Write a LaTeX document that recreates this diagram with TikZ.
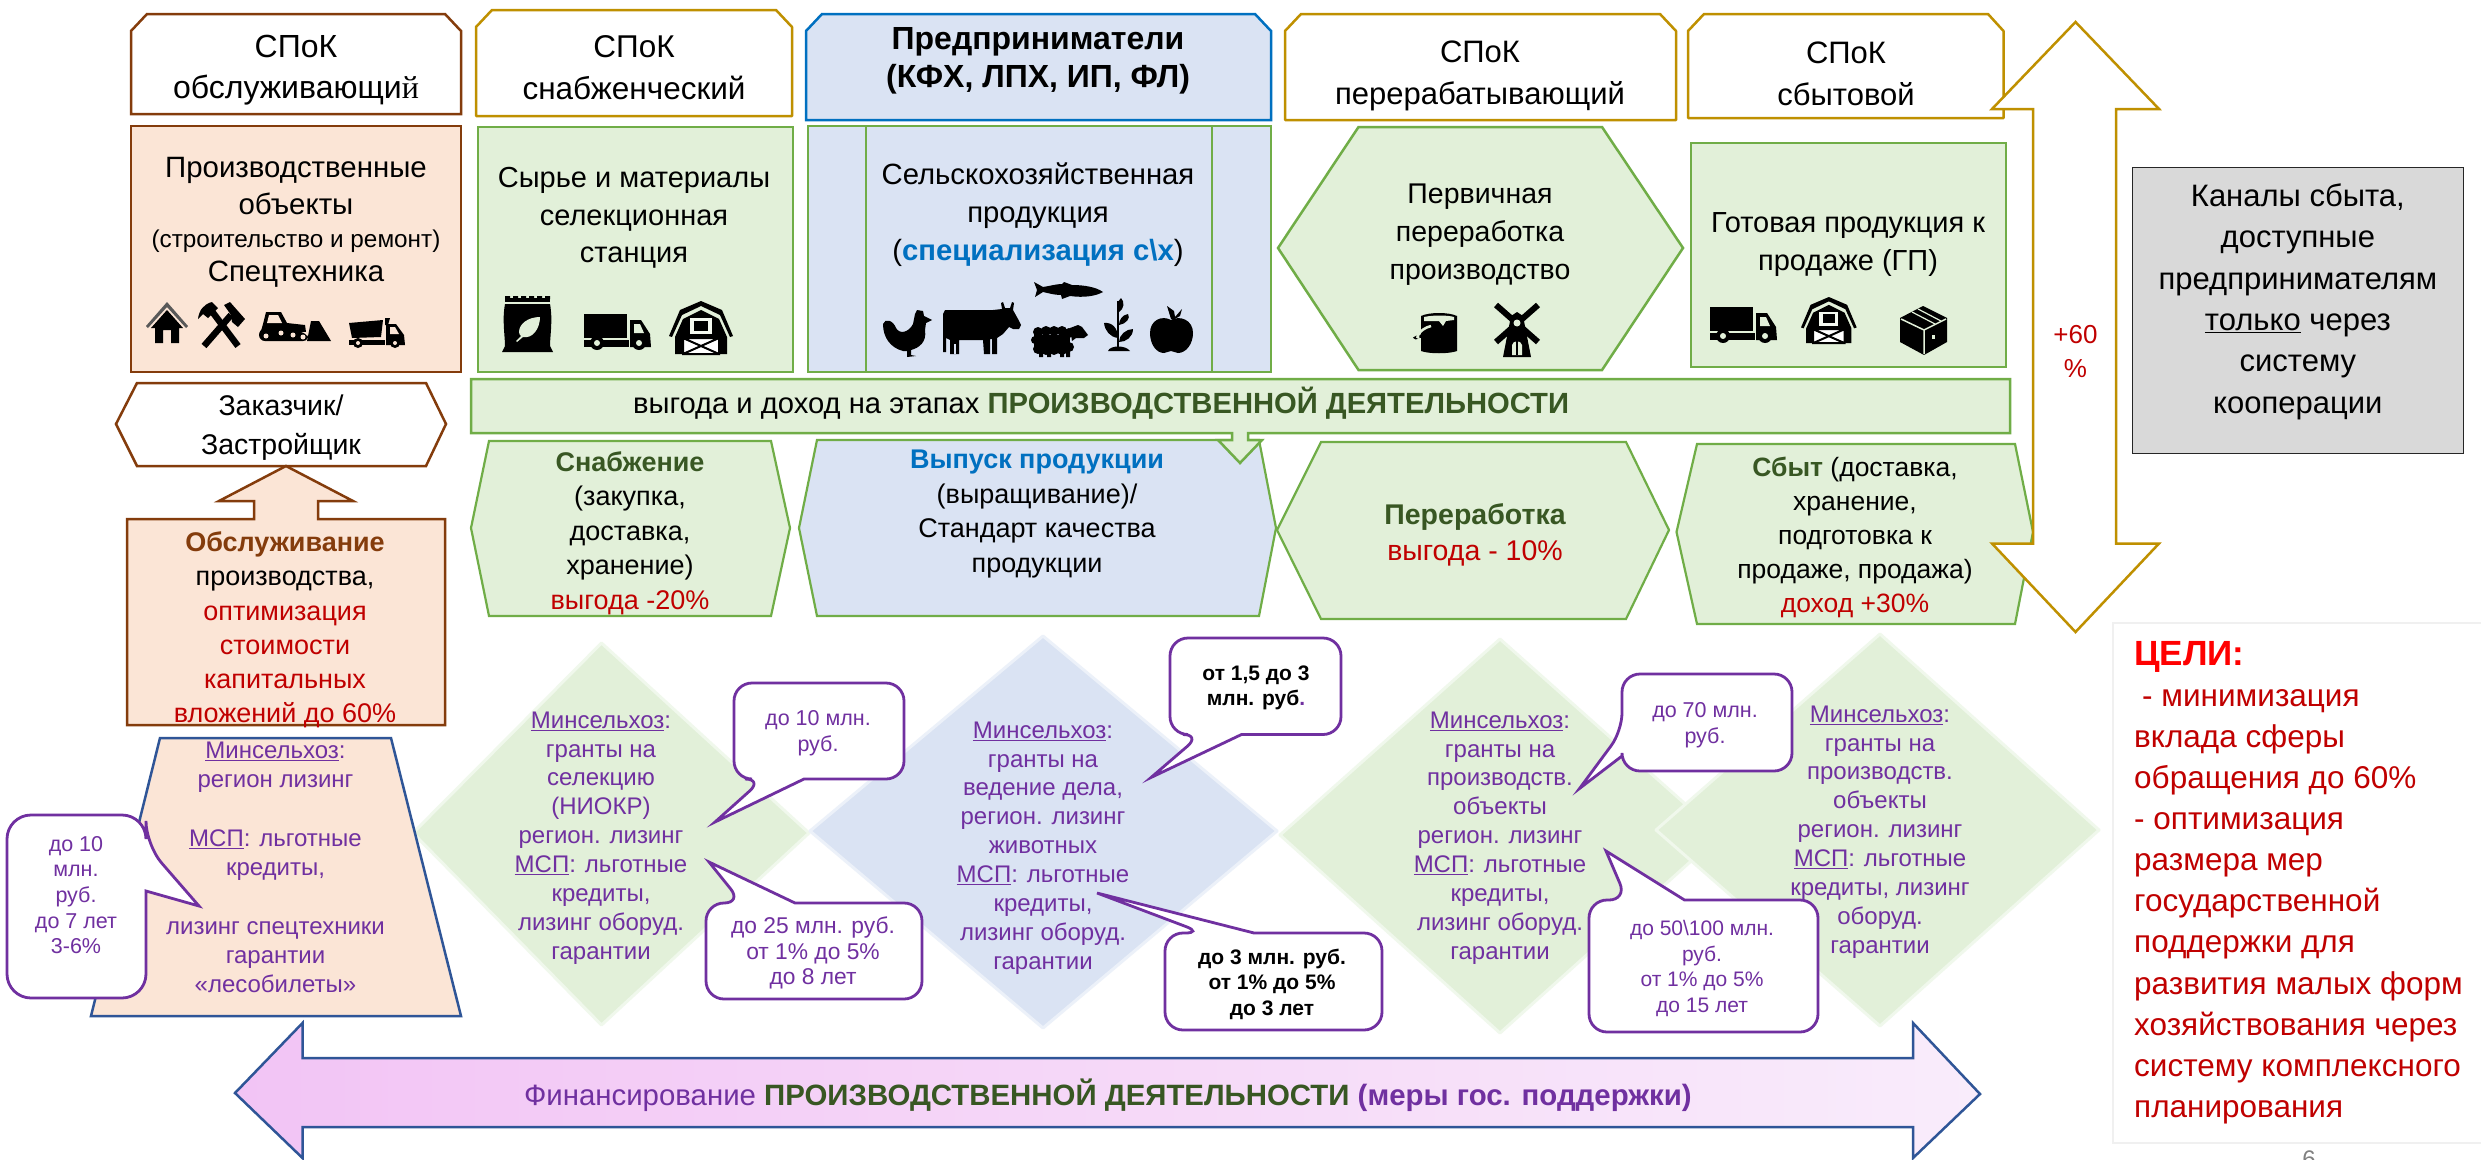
\documentclass[tikz,border=0pt]{standalone}
\usepackage{fontspec}
\setmainfont{Liberation Sans}
\newfontfamily\serifcy{Liberation Serif}
\definecolor{gfill}{HTML}{E2F0D9}
\definecolor{gline}{HTML}{70AD47}
\definecolor{bfill}{HTML}{DAE3F3}
\definecolor{ofill}{HTML}{FBE5D6}
\definecolor{brown}{HTML}{843C0C}
\definecolor{gold}{HTML}{BF9000}
\definecolor{sblue}{HTML}{0070C0}
\definecolor{nblue}{HTML}{2F5597}
\definecolor{purp}{HTML}{7030A0}
\definecolor{cred}{HTML}{C00000}
\definecolor{dgreen}{HTML}{385723}
\definecolor{pinkl}{HTML}{F2C4F5}
\definecolor{pinkr}{HTML}{F9ECFB}
\colorlet{icobg}{gfill}
\newcommand\fsz[2]{\fontsize{#1}{#2}\selectfont}
\newcommand\ul[1]{\underline{#1}}
\tikzset{
  txt/.style={align=center,inner sep=0pt,outer sep=0pt,text=black},
  ptxt/.style={align=center,inner sep=0pt,outer sep=0pt,text=purp,font=\fsz{24}{28.9}},
  ctxt/.style={align=center,inner sep=0pt,outer sep=0pt,text=purp,font=\fsz{21.5}{25.6}},
  btxt/.style={align=center,inner sep=0pt,outer sep=0pt,text=black,font=\fsz{21}{25.6}\bfseries},
  goldbox/.style={draw=gold,line width=2.5pt,fill=white,line join=round},
  brownbox/.style={draw=brown,line width=2.5pt,line join=miter},
  greenbox/.style={draw=gline,line width=2.5pt,fill=gfill,line join=miter},
  bluebox/.style={draw=gline,line width=2.5pt,fill=bfill,line join=miter},
  callout/.style={draw=purp,line width=2.8pt,fill=white,line join=miter},
  diam/.style={line width=3pt,line join=round},
  pics/truck/.style={code={
    \fill (0,0) rectangle (43,24);
    \fill (0,26) rectangle (45,33);
    \fill (46,6) -- (57,6) -- (66,20) -- (67,33) -- (46,33) -- cycle;
    \fill[icobg] (50,10) -- (56,10) -- (60,19) -- (50,19) -- cycle;
    \fill (13,29) circle (7); \fill[icobg] (13,29) circle (3);
    \fill (55,29) circle (7); \fill[icobg] (55,29) circle (3);
  }},
  pics/barn/.style={code={
    \fill (32,0) -- (53,9) -- (64,35) -- (61,36) -- (51,14) -- (32,5) -- (13,14) -- (3,36) -- (0,35) -- (11,9) -- cycle;
    \fill (6,53) -- (6,36) -- (14,18) -- (32,9) -- (50,18) -- (58,36) -- (58,53) -- cycle;
    \fill[white!60!icobg] (21,17) rectangle (43,33);
    \fill (25,20) rectangle (39,30);
    \fill[white] (13,36) rectangle (51,53);
    \draw[line width=2pt] (14,37) rectangle (50,53) (14,37) -- (50,53) (50,37) -- (14,53);
  }},
  pics/house/.style={code={
    \fill[black!65] (21,0) -- (42,24) -- (40,26) -- (21,5) -- (2,26) -- (0,24) -- cycle;
    \fill (21,8) -- (37,26) -- (33,26) -- (33,41) -- (25,41) -- (25,28) -- (17,28) -- (17,41) -- (9,41) -- (9,26) -- (5,26) -- cycle;
  }},
  pics/hammers/.style={code={
    \draw[line width=6.5pt] (13,8) -- (40,44);
    \draw[line width=6.5pt] (33,13) -- (6,44);
    \fill (0,17) .. controls (1,8) and (6,2) .. (14,0) -- (20,6) -- (10,16) -- (5,12) -- cycle;
    \fill (26,3) -- (32,0) -- (47,17) -- (40,25) -- (34,20) -- (33,13) -- cycle;
  }},
  pics/dozer/.style={code={
    \fill (4,12) -- (7,0) -- (22,0) -- (28,11) -- (46,13) -- (47,20) -- (2,19) -- cycle;
    \fill[icobg] (10,3) -- (19,3) -- (23,11) -- (8,11) -- cycle;
    \fill[rounded corners=6pt] (0,17) -- (10,15) -- (48,21) -- (50,29) -- (0,29) -- cycle;
    \fill[icobg] (7,24) circle (2.5) (22,21) circle (2.5) (34,23) circle (2.5) (44,25) circle (2.5);
    \fill (52,9) -- (60,9) -- (72,29) -- (48,29) -- cycle;
  }},
  pics/dump/.style={code={
    \fill (0,5) -- (34,2) -- (32,19) -- (3,20) -- cycle;
    \fill (36,0) -- (41,0) -- (39,7) -- (36,7) -- cycle;
    \fill (0,22) rectangle (36,27);
    \fill (37,6) -- (47,6) -- (55,17) -- (56,27) -- (37,27) -- cycle;
    \fill[icobg] (41,9) -- (46,9) -- (50,16) -- (41,16) -- cycle;
    \fill (9,25) circle (5); \fill[icobg] (9,25) circle (2);
    \fill (46,25) circle (5); \fill[icobg] (46,25) circle (2);
  }},
  pics/sack/.style={code={
    \fill (3,2) -- (48,2) -- (48,6) -- (3,6) -- cycle;
    \fill (3,0) rectangle (8,3) (11,0) rectangle (16,3) (19,0) rectangle (24,3) (27,0) rectangle (32,3) (35,0) rectangle (40,3) (43,0) rectangle (48,3);
    \fill (3,8) -- (48,8) .. controls (51,24) and (48,40) .. (48,50) -- (51,56) -- (0,56) -- (3,50) .. controls (3,40) and (0,24) .. (3,8) -- cycle;
    \fill[icobg] (38,21) .. controls (26,21) and (17,28) .. (17,36) .. controls (17,38) and (18,39) .. (19,40) -- (14,45) -- (15,46) -- (21,41) .. controls (31,43) and (38,32) .. (38,21) -- cycle;
  }},
  pics/fish/.style={code={
    \fill (0,0) -- (9,5) .. controls (16,4) and (22,2) .. (28,2) -- (30,0) -- (38,3) .. controls (50,3) and (62,5) .. (69,10) .. controls (62,14) and (50,16) .. (36,14) -- (28,17) -- (27,13) .. controls (20,13) and (14,11) .. (9,10) -- (1,15) -- (3,8) -- cycle;
  }},
  pics/chicken/.style={code={
    \fill (0,14) .. controls (2,8) and (10,10) .. (13,18) .. controls (17,25) and (26,22) .. (30,14) -- (32,4) -- (34,0) -- (40,1) -- (41,6) -- (49,10) -- (43,13) -- (42,20) .. controls (44,32) and (36,38) .. (28,40) -- (28,45) -- (33,46) -- (24,47) -- (24,41) -- (20,41) .. controls (8,38) and (0,28) .. (0,14) -- cycle;
  }},
  pics/cow/.style={code={
    \fill (0,12) -- (2,8) -- (50,8) -- (59,7) -- (58,1) -- (60,0) -- (62,6) -- (67,6) -- (69,0) -- (71,1) -- (70,8) -- (75,17) -- (78,23) -- (76,27) -- (70,27) -- (66,25) -- (60,32) -- (54,36) -- (54,52) -- (49,52) -- (49,37) -- (47,37) -- (47,52) -- (41,52) -- (40,38) -- (16,38) -- (16,52) -- (7,52) -- (7,38) -- (3,36) -- (3,50) -- (0,50) -- cycle;
    \fill[icobg] (11,42) rectangle (13,52);
  }},
  pics/sheep/.style={code={
    \fill (2,10) rectangle (38,24);
    \fill (6,7) circle (5) (14,6) circle (5) (22,6) circle (5) (30,6) circle (5) (37,8) circle (5);
    \fill (6,24) circle (5) (14,25) circle (5) (22,25) circle (5) (30,25) circle (5) (37,22) circle (5) (3,15) circle (4);
    \fill (38,3) -- (46,0) -- (50,2) -- (56,10) -- (52,13) -- (44,13) -- (40,16) -- cycle;
    \fill (7,27) rectangle (11,32) (15,27) rectangle (19,32) (28,27) rectangle (32,32) (34,24) rectangle (38,32);
  }},
  pics/plant/.style={code={
    \draw[line width=2.2pt] (14,3) -- (14,50);
    \fill (4,53) .. controls (6,47) and (22,47) .. (26,53) -- cycle;
    \fill (17,0) .. controls (21,4) and (20,11) .. (15,14) .. controls (12,9) and (13,4) .. (17,0) -- cycle;
    \fill (24,16) .. controls (27,20) and (22,26) .. (15,27) .. controls (15,22) and (18,17) .. (24,16) -- cycle;
    \fill (0,25) .. controls (8,24) and (14,30) .. (14,40) .. controls (6,39) and (1,33) .. (0,25) -- cycle;
    \fill (29,31) .. controls (29,39) and (22,44) .. (15,44) .. controls (15,37) and (22,31) .. (29,31) -- cycle;
  }},
  pics/apple/.style={code={
    \fill (21,13) -- (17,0) -- (24,5) -- (25,11) -- (32,3) -- (30,10) -- (23,14) -- cycle;
    \fill (21,14) .. controls (30,9) and (43,14) .. (43,27) .. controls (43,38) and (36,47) .. (28,47) .. controls (25,47) and (24,45) .. (21,45) .. controls (18,45) and (17,47) .. (14,47) .. controls (6,47) and (0,38) .. (0,27) .. controls (0,14) and (12,9) .. (21,14) -- cycle;
  }},
  pics/can/.style={code={
    \fill (8,3) .. controls (16,-1) and (36,-1) .. (44,3) -- (44,38) .. controls (36,41) and (16,41) .. (8,38) -- cycle;
    \fill[icobg] (11,4) .. controls (20,2) and (34,2) .. (41,4) -- (41,7) -- (33,8) -- (30,13) -- (26,8) -- (20,8) -- (11,8) -- cycle;
    \draw[line width=2pt] (8,24) .. controls (0,22) and (0,28) .. (6,24) -- (20,13);
    \draw[icobg,line width=2.5pt] (6,25) .. controls (2,26) and (6,16) .. (18,13);
  }},
  pics/mill/.style={code={
    \draw[line width=6pt] (3,2) -- (45,39) (45,2) -- (3,39);
    \fill (24,9) -- (30,13) -- (38,54) -- (10,54) -- (18,13) -- cycle;
    \fill[icobg] (24,20) circle (3.5);
    \fill[icobg] (19,52) -- (19,42) .. controls (20,37) and (28,37) .. (29,42) -- (29,52) -- cycle;
    \fill (23,38) rectangle (25,52);
  }},
  pics/parcel/.style={code={
    \fill (23,0) -- (47,12) -- (47,36) -- (24,49) -- (0,36) -- (0,12) -- cycle;
    \draw[icobg,line width=1.5pt] (1,13) -- (24,24) -- (46,13) (24,24) -- (24,48);
    \draw[icobg,line width=1.2pt] (12,6) -- (35,18) (18,3) -- (41,15);
    \fill[icobg] (32,29) rectangle (35,33);
  }},
}
\begin{document}
\begin{tikzpicture}[x=1pt,y=-1pt,line cap=butt]
\useasboundingbox (0,0) rectangle (2481,1159);
\fill[white] (0,0) rectangle (2481,1159);

% diamonds
\path[fill=gfill,draw=gfill!50,diam] (601.5,643) -- (809,833) -- (601.5,1025) -- (413,833) -- cycle;
\path[fill=bfill,draw=bfill!50,diam] (1043,636) -- (1277,831) -- (1043,1028) -- (810,831) -- cycle;
\path[fill=gfill,draw=gfill!50,diam] (1500,639) -- (1720,835) -- (1500,1033) -- (1280,835) -- cycle;
\path[fill=gfill,draw=gfill!50,diam] (1880,634) -- (2099,830) -- (1880,1026) -- (1656,830) -- cycle;

% top headers
\draw[brownbox,fill=white] (147,14) -- (445,14) -- (461,31) -- (461,114) -- (131,114) -- (131,31) -- cycle;
\node[txt,font=\fsz{32}{41}] (h1) at (296,70) {СПоК\\обслуживающи{\serifcy й}};
\draw[goldbox] (492,10) -- (776,10) -- (792,27) -- (792,116) -- (476,116) -- (476,27) -- cycle;
\node[txt,font=\fsz{31.5}{42}] (h2) at (634,68) {СПоК\\снабженческий};
\draw[draw=sblue,line width=2.5pt,fill=bfill] (822,14) -- (1255,14) -- (1271,31) -- (1271,120) -- (806,120) -- (806,31) -- cycle;
\node[txt,font=\fsz{32}{38}\bfseries] (h3) at (1038,61) {Предприниматели\\(КФХ, ЛПХ, ИП, ФЛ)};
\draw[goldbox] (1301,14) -- (1660,14) -- (1676,31) -- (1676,120) -- (1285,120) -- (1285,31) -- cycle;
\node[txt,font=\fsz{31}{42}] (h4) at (1480,76) {СПоК\\перерабатывающий};
\draw[goldbox] (1704,14) -- (1988,14) -- (2003.5,31) -- (2003.5,118) -- (1688,118) -- (1688,31) -- cycle;
\node[txt,font=\fsz{31}{42}] (h5) at (1846,74) {СПоК\\сбытовой};

% second row
\draw[brownbox,fill=ofill] (131,126) rectangle (461,372);
\node[txt,font=\fsz{29.4}{37}] (a1) at (296,186) {Производственные\\объекты};
\node[txt,font=\fsz{24.3}{28}] (a2) at (296,241) {(строительство и ремонт)};
\node[txt,font=\fsz{29.4}{37}] (a3) at (296,274) {Спецтехника};
\colorlet{icobg}{ofill}
\pic at (146,302) {house};
\pic at (198,302) {hammers};
\pic at (259,312) {dozer};
\pic at (349,318) {dump};

\draw[greenbox] (478,127) rectangle (793,372);
\node[txt,font=\fsz{29}{37.5}] (a4) at (634,218) {Сырье и материалы\\селекционная\\станция};
\colorlet{icobg}{gfill}
\pic at (502,296) {sack};
\pic at (584,314) {truck};
\pic at (669,301) {barn};

\draw[bluebox] (808,126) rectangle (1271,372);
\draw[draw=gline,line width=2.5pt] (866,126) -- (866,372) (1212,126) -- (1212,372);
\node[txt,font=\fsz{29.3}{38}] (a5) at (1038,215) {Сельскохозяйственная\\продукция\\(\textcolor{sblue}{\bfseries специализация с\textbackslash х})};
\colorlet{icobg}{bfill}
\pic at (1034,282) {fish};
\pic at (883,310) {chicken};
\pic at (943,302) {cow};
\pic at (1032,325) {sheep};
\pic at (1104,298) {plant};
\pic at (1150,306) {apple};

\draw[greenbox] (1358.5,127) -- (1602,127) -- (1683,248) -- (1602,370) -- (1358.5,370) -- (1278,248) -- cycle;
\node[txt,font=\fsz{28.5}{38}] (a6) at (1480,235) {Первичная\\переработка\\производство};
\colorlet{icobg}{gfill}
\pic at (1413,313) {can};
\pic at (1493,303) {mill};

\draw[greenbox] (1691,143) rectangle (2006,367);
\node[txt,font=\fsz{29}{38}] (a7) at (1848,245) {Готовая продукция к\\продаже (ГП)};
\pic at (1710,307) {truck};
\pic[scale=0.87] at (1801,297) {barn};
\pic at (1900,306) {parcel};

% Zakazchik
\draw[brownbox,fill=white] (137,383) -- (426,383) -- (446,424) -- (426,466) -- (137,466) -- (116,424) -- cycle;
\node[txt,font=\fsz{28.5}{39}] (z) at (281,428) {Заказчик/\\Застройщик};
\draw[brownbox,fill=ofill] (286,466) -- (353,501) -- (318,501) -- (318,519) -- (445,519) -- (445,725) -- (127,725) -- (127,519) -- (254,519) -- (254,501) -- (219,501) -- cycle;
\node[txt,font=\fsz{27}{34.2}] (ob) at (285,630) {\textcolor{brown}{\bfseries Обслуживание}\\производства,\\\textcolor{cred}{оптимизация}\\\textcolor{cred}{стоимости}\\\textcolor{cred}{капитальных}\\\textcolor{cred}{вложений до 60\%}};

% banner and hexes
\draw[greenbox,line width=2.2pt] (489,441) -- (771,441) -- (790,528) -- (771,616) -- (489,616) -- (471,528) -- cycle;
\node[txt,font=\fsz{27}{34.5}] (s1) at (630,533) {\textcolor{dgreen}{\bfseries Снабжение}\\(закупка,\\доставка,\\хранение)\\\textcolor{cred}{выгода -20\%}};
\draw[bluebox,line width=2.2pt] (817,440) -- (1259,440) -- (1276,528) -- (1259,616) -- (817,616) -- (799,528) -- cycle;
\node[txt,font=\fsz{27}{34.4}] (s2) at (1037,514) {\textcolor{sblue}{\bfseries Выпуск продукции}\\(выращивание)/\\Стандарт качества\\продукции};
\draw[greenbox,line width=2.2pt] (1321,442) -- (1626,442) -- (1669,530) -- (1626,619) -- (1321,619) -- (1277,530) -- cycle;
\node[txt,font=\fsz{28.5}{36}] (s3) at (1475,535) {\textcolor{dgreen}{\bfseries Переработка}\\\textcolor{cred}{выгода - 10\%}};
\draw[greenbox,line width=2.2pt] (1697,444) -- (2015,444) -- (2033,532) -- (2015,624) -- (1697,624) -- (1676.5,532) -- cycle;
\node[txt,font=\fsz{26.5}{34.2}] (s4) at (1855,537.5) {\textcolor{dgreen}{\bfseries Сбыт} (доставка,\\хранение,\\подготовка к\\продаже, продажа)\\\textcolor{cred}{доход +30\%}};

\draw[greenbox] (471,379) -- (2010,379) -- (2010,433) -- (1248,433) -- (1248,440) -- (1262,440) -- (1240,463) -- (1218,440) -- (1232,440) -- (1232,433) -- (471,433) -- cycle;
\node[txt,font=\fsz{29.2}{34},anchor=west] (ban) at (633,403) {выгода и доход на этапах \textcolor{dgreen}{\bfseries ПРОИЗВОДСТВЕННОЙ ДЕЯТЕЛЬНОСТИ}};

% double arrow
\draw[draw=gold,line width=2.5pt,fill=white,line join=miter] (2075.5,22) -- (2159,109) -- (2116,109) -- (2116,543.5) -- (2159,543.5) -- (2075.5,632) -- (1992,543.5) -- (2033,543.5) -- (2033,109) -- (1992,109) -- cycle;
\node[txt,font=\fsz{26}{34},text=cred] (sixty) at (2075.5,351) {+60\\\%};

% gray
\node[draw=black!85,line width=1.2pt,fill=black!15,minimum width=330.5pt,minimum height=286pt,inner sep=0pt,anchor=north west] (g) at (2132,167) {};
\node[txt,font=\fsz{31}{41.4}] (gt) at ([yshift=9pt]g.center) {Каналы сбыта,\\доступные\\предпринимателям\\\ul{только} через\\систему\\кооперации};

% goals
\draw[draw=black!6,line width=2pt,fill=white] (2481,623) -- (2113,623) -- (2113,1143) -- (2481,1143);
\node[align=left,inner sep=0pt,anchor=north west,font=\fsz{31.5}{41.1},text=cred] (goal) at (2134,641) {\textcolor{red}{\fontsize{35}{41.1}\selectfont\bfseries ЦЕЛИ:}\\\hspace*{8pt}- минимизация\\вклада сферы\\обращения до 60\%\\- оптимизация\\размера мер\\государственной\\поддержки для\\развития малых форм\\хозяйствования через\\систему комплексного\\планирования};
\node[txt,font=\fsz{24}{28},text=black!50] (pg) at (2309,1159) {6};

% trapezoid
\draw[draw=nblue,line width=2.5pt,fill=ofill] (160,738) -- (391,738) -- (461,1016) -- (91,1016) -- cycle;
\node[ptxt] (t1) at (275.5,867.5) {\ul{Минсельхоз}:\\регион лизинг\\\rule{0pt}{24pt}\\\ul{МСП}: льготные\\кредиты,\\\rule{0pt}{24pt}\\лизинг спецтехники\\гарантии\\«лесобилеты»};

% callouts
\draw[callout] (146,891) [rounded corners=24pt] -- (146,998) -- (7,998) -- (7,815) -- (146,815) -- (146,845) [sharp corners] -- (199,906) -- cycle;
\node[ctxt] (c0) at (76,895) {до 10\\млн.\\руб.\\до 7 лет\\3-6\%};

\draw[callout] (804,779) [rounded corners=18pt] -- (904,779) -- (904,683) -- (734,683) -- (734,779) -- (763,779) [sharp corners] -- (715,822) -- cycle;
\node[ctxt] (c1) at (818,733) {до 10 млн.\\руб.};

\draw[callout] (795,903) [rounded corners=18pt] -- (922,903) -- (922,999) -- (706,999) -- (706,903) -- (742,903) [sharp corners] -- (709,862) -- cycle;
\node[ctxt,font=\fsz{22.8}{25.6}] (c2) at (813,953) {до 25 млн. руб.\\от 1\% до 5\%\\до 8 лет};

\draw[callout] (1241.5,734.5) [rounded corners=18pt] -- (1341,734.5) -- (1341,638) -- (1170,638) -- (1170,734.5) -- (1201,734.5) [sharp corners] -- (1151,777.5) -- cycle;
\node[btxt] (c3) at (1256,688) {от 1,5 до 3\\млн. руб\textcolor{purp}{.}};

\draw[callout] (1254,933) [rounded corners=18pt] -- (1382,933) -- (1382,1030) -- (1165,1030) -- (1165,933) -- (1203,933) [sharp corners] -- (1097,893) -- cycle;
\node[btxt] (c4) at (1272,984) {до 3 млн. руб.\\от 1\% до 5\%\\до 3 лет};

\draw[callout] (1622,756) [rounded corners=18pt] -- (1622,771) -- (1792,771) -- (1792,674) -- (1622,674) -- (1622,731) [sharp corners] -- (1579.5,788.5) -- cycle;
\node[ctxt] (c5) at (1705,725) {до 70 млн.\\руб.};

\draw[callout] (1684.5,900) [rounded corners=18pt] -- (1818,900) -- (1818,1032) -- (1589,1032) -- (1589,900) -- (1627,900) [sharp corners] -- (1606,851) -- cycle;
\node[ctxt,font=\fsz{21}{25.6}] (c6) at (1702,968.5) {до 50\textbackslash 100 млн.\\руб.\\от 1\% до 5\%\\до 15 лет};

% diamond texts
\node[ptxt] (d1) at (601,838) {\ul{Минсельхоз}:\\гранты на\\селекцию\\(НИОКР)\\регион. лизинг\\\ul{МСП}: льготные\\кредиты,\\лизинг оборуд.\\гарантии};
\node[ptxt] (d2) at (1043,848) {\ul{Минсельхоз}:\\гранты на\\ведение дела,\\регион. лизинг\\животных\\\ul{МСП}: льготные\\кредиты,\\лизинг оборуд.\\гарантии};
\node[ptxt] (d3) at (1500,838) {\ul{Минсельхоз}:\\гранты на\\производств.\\объекты\\регион. лизинг\\\ul{МСП}: льготные\\кредиты,\\лизинг оборуд.\\гарантии};
\node[ptxt] (d4) at (1880,832) {\ul{Минсельхоз}:\\гранты на\\производств.\\объекты\\регион. лизинг\\\ul{МСП}: льготные\\кредиты, лизинг\\оборуд.\\гарантии};

% finance arrow
\draw[draw=nblue,line width=2.5pt,left color=pinkl,right color=pinkr,line join=miter] (235,1093) -- (302.5,1023) -- (302.5,1058) -- (1913,1058) -- (1913,1023) -- (1980,1094) -- (1913,1158) -- (1913,1127) -- (302.5,1127) -- (302.5,1158) -- cycle;
\node[txt,font=\fsz{29.4}{34},anchor=west] (fin) at (524,1095) {\textcolor{purp}{Финансирование} \textcolor{dgreen}{\bfseries ПРОИЗВОДСТВЕННОЙ ДЕЯТЕЛЬНОСТИ} \textcolor{purp}{\bfseries (меры гос. поддержки)}};
\end{tikzpicture}
\end{document}
